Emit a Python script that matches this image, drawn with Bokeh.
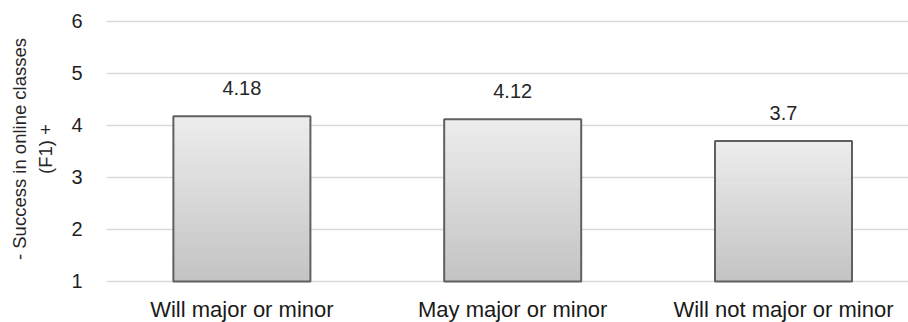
from bokeh.plotting import figure
from bokeh.models import Range1d, FixedTicker, Title, ColumnDataSource
from bokeh.core.properties import value
from bokeh.embed import file_html
from bokeh.resources import INLINE

# Mean score per intention group
categories = ["Will major or minor", "May major or minor", "Will not major or minor"]
means = [4.18, 4.12, 3.7]
y_ticks = [1, 2, 3, 4, 5, 6]
y_title_line1 = "- Success in online classes"
y_title_line2 = "(F1) +"

FONT = "Liberation Sans"
BASE = 1.0
BAR_W = 0.506
centers = [i + 0.5 for i in range(len(categories))]

p = figure(frame_width=802, frame_height=275, output_backend="svg",
           toolbar_location=None,
           x_range=Range1d(0, 2.9616), y_range=Range1d(0.9038, 6.1923),
           min_border_left=106, min_border_right=0, min_border_top=11,
           min_border_bottom=0)
p.outline_line_color = None
p.background_fill_color = "white"
p.border_fill_color = "white"

# horizontal gridlines only
p.xgrid.grid_line_color = None
p.ygrid.grid_line_color = "#d9d9d9"
p.ygrid.grid_line_width = 1.6
p.ygrid.ticker = FixedTicker(ticks=y_ticks)

# y axis
p.yaxis.ticker = FixedTicker(ticks=y_ticks)
p.yaxis.axis_line_color = None
p.yaxis.major_tick_line_color = None
p.yaxis.minor_tick_line_color = None
p.yaxis.major_label_text_font = FONT
p.yaxis.major_label_text_font_size = "20px"
p.yaxis.major_label_text_color = "#1f1f1f"
p.yaxis.major_label_standoff = 18
p.yaxis.axis_label = y_title_line2
p.yaxis.axis_label_text_font = FONT
p.yaxis.axis_label_text_font_size = "18.5px"
p.yaxis.axis_label_text_font_style = "normal"
p.yaxis.axis_label_text_color = "#262626"
p.yaxis.axis_label_standoff = 12
p.add_layout(Title(text=y_title_line1, align="center", text_font=FONT,
                   text_font_size="18.5px", text_font_style="normal",
                   text_color="#262626", standoff=6), "left")

# x axis with category names under each bar
p.xaxis.ticker = FixedTicker(ticks=centers)
p.xaxis.major_label_overrides = {c: name for c, name in zip(centers, categories)}
p.xaxis.axis_line_color = None
p.xaxis.major_tick_line_color = None
p.xaxis.minor_tick_line_color = None
p.xaxis.major_label_text_font = FONT
p.xaxis.major_label_text_font_size = "22px"
p.xaxis.major_label_text_color = "#1a1a1a"
p.xaxis.major_label_standoff = 4

# vertical grey gradient inside each bar, built from horizontal strips
N = 60
top_rgb = (237, 237, 237)
bot_rgb = (195, 195, 195)
left, right, bottom, top, color = [], [], [], [], []
for cx, v in zip(centers, means):
    h = (v - BASE) / N
    for k in range(N):
        t = (k + 0.5) / N
        rgb = tuple(int(round(b + (a - b) * t)) for a, b in zip(top_rgb, bot_rgb))
        left.append(cx - BAR_W / 2)
        right.append(cx + BAR_W / 2)
        bottom.append(BASE + k * h)
        top.append(BASE + (k + 1) * h)
        color.append("#%02x%02x%02x" % rgb)
strips = ColumnDataSource(dict(left=left, right=right, bottom=bottom, top=top,
                               color=color))
p.quad(left="left", right="right", bottom="bottom", top="top", source=strips,
       fill_color="color", line_color="color", line_width=1)

bars = ColumnDataSource(dict(x=centers, top=means,
                             label=[f"{m:g}" for m in means]))
p.vbar(x="x", top="top", bottom=BASE, width=BAR_W, source=bars,
       fill_color=None, line_color="#606060", line_width=2)

p.text(x="x", y="top", text="label", source=bars, y_offset=-28,
       text_align="center", text_baseline="alphabetic",
       text_font=value(FONT), text_font_size="20px", text_color="#262626")

open("out.html", "w").write(file_html(p, INLINE))
